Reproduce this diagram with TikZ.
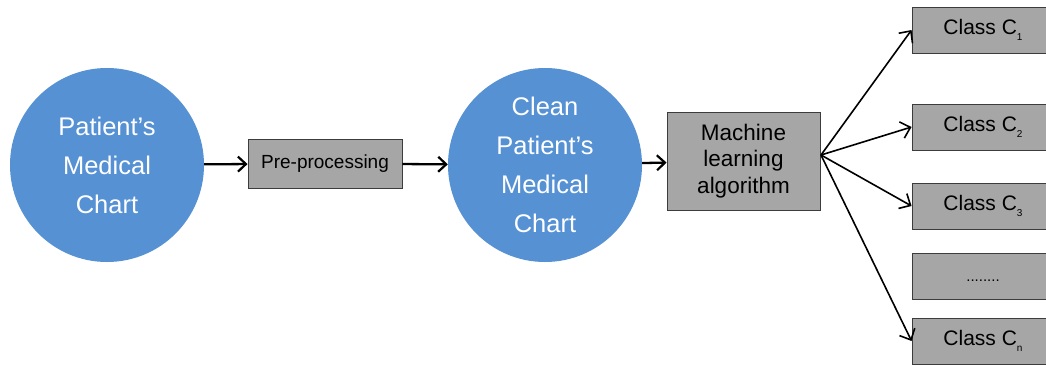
\documentclass[tikz,border=0pt]{standalone}
\usepackage{fontspec}
\setmainfont{Liberation Sans}
\usetikzlibrary{arrows.meta}
\definecolor{circblue}{RGB}{86,145,212}
\definecolor{boxgray}{RGB}{166,166,166}
\definecolor{boxline}{RGB}{60,60,60}
\newcommand{\subidx}[1]{\raisebox{-0.5ex}{\fontsize{10}{10}\selectfont #1}}
\begin{document}
\begin{tikzpicture}[x=1pt,y=-1pt,
  bubble/.style={circle,fill=circblue,draw=none,minimum size=194pt,inner sep=0pt,
    text=white,align=center,font=\fontsize{25.5}{39}\selectfont},
  graybox/.style={rectangle,fill=boxgray,draw=boxline,line width=0.9pt,inner sep=0pt,
    text=black,align=center},
  classbox/.style={graybox,minimum width=142pt,minimum height=46pt,font=\fontsize{21}{24}\selectfont},
  flow/.style={line width=2.3pt,-{Straight Barb[length=8pt,width=15pt,line width=2.2pt]}},
  fan/.style={line width=1.6pt,-{Straight Barb[length=9pt,width=17pt,line width=1.6pt]}}]
\useasboundingbox (0,0) rectangle (1046,365);
\fill[white] (0,0) rectangle (1046,365);
\node[bubble] (c1) at (107,165) {Patient’s\\Medical\\Chart};
\node[graybox,minimum width=154pt,minimum height=49pt,font=\fontsize{19}{23}\selectfont] (pre) at (325,163.5) {Pre-processing};
\node[bubble] (c2) at (545,165) {Clean\\Patient’s\\Medical\\Chart};
\node[graybox,minimum width=153pt,minimum height=98pt,font=\fontsize{22.5}{26.5}\selectfont] (ml) at (743.5,161) {Machine\\learning\\algorithm};
\node[classbox] (k1) at (983,30) {Class C\subidx{1}};
\node[classbox] (k2) at (983,127) {Class C\subidx{2}};
\node[classbox] (k3) at (983,206) {Class C\subidx{3}};
\node[classbox,font=\fontsize{15}{17}\selectfont] (kd) at (983,276) {\raisebox{-10pt}{........}};
\node[classbox] (kn) at (983,341) {Class C\subidx{n}};
\coordinate (fanpt) at (821,155);
\draw[flow] (c1) -- (pre);
\draw[flow] (pre) -- (c2);
\draw[flow] (c2) -- (ml);
\draw[fan] (fanpt) -- (k1.west);
\draw[fan] (fanpt) -- (k2.west);
\draw[fan] (fanpt) -- (k3.west);
\draw[fan] (fanpt) -- (kn.west);
\end{tikzpicture}
\end{document}
